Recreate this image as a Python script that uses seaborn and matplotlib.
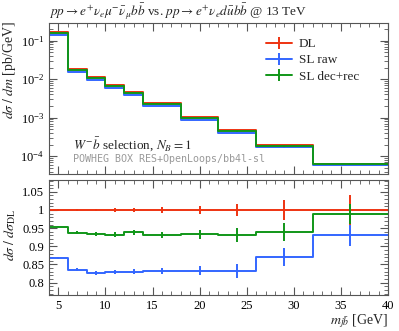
import matplotlib
matplotlib.use("Agg")
import matplotlib.pyplot as plt
from matplotlib.lines import Line2D
from matplotlib.ticker import MultipleLocator, LogLocator, FuncFormatter, NullFormatter
import numpy as np
import seaborn as sns

# bin edges of m_jb [GeV]
edges = [4, 6, 8, 10, 12, 14, 18, 22, 26, 32, 40]
# DL cross section per bin [pb/GeV]
xs_dl = [0.165, 0.0185, 0.0115, 0.0072, 0.0046, 0.0024, 0.00106, 0.00048, 0.000195, 6.4e-5]
# ratios to DL
ratio_sl_raw = [0.868, 0.836, 0.827, 0.830, 0.830, 0.831, 0.833, 0.832, 0.870, 0.930]
ratio_sl_decrec = [0.954, 0.937, 0.934, 0.932, 0.938, 0.931, 0.933, 0.931, 0.940, 0.989]
# relative stat. errors
err_dl = [0.002, 0.003, 0.004, 0.005, 0.006, 0.007, 0.012, 0.016, 0.027, 0.040]
err_sl_raw = [0.002, 0.004, 0.005, 0.006, 0.007, 0.008, 0.012, 0.020, 0.025, 0.028]
err_sl_decrec = [0.002, 0.004, 0.005, 0.006, 0.007, 0.008, 0.012, 0.020, 0.025, 0.028]

labels = ["DL", "SL raw", "SL dec+rec"]
colors = ["#EE3311", "#3366FF", "#109618"]

sns.set_style("ticks")
plt.rcParams["font.family"] = ["Liberation Serif", "DejaVu Serif"]
plt.rcParams["mathtext.fontset"] = "stix"

centers = [(a + b) / 2 for a, b in zip(edges[:-1], edges[1:])]
ratios = [[1.0] * len(xs_dl), ratio_sl_raw, ratio_sl_decrec]
errs = [err_dl, err_sl_raw, err_sl_decrec]

fig = plt.figure(figsize=(3.99, 3.31), dpi=100)
ax1 = fig.add_axes([0.1228, 0.4734, 0.8496, 0.4571])
ax2 = fig.add_axes([0.1228, 0.1088, 0.8496, 0.3474])

lw = 1.4
for rat, err, c in zip(ratios, errs, colors):
    vals = [d * r for d, r in zip(xs_dl, rat)]
    sns.lineplot(x=edges, y=vals + [vals[-1]], drawstyle="steps-post", estimator=None,
                 sort=False, color=c, lw=lw, ax=ax1)
    ax1.errorbar(centers, vals, yerr=[v * e for v, e in zip(vals, err)], fmt="none",
                 ecolor=c, elinewidth=lw, capsize=0)
    sns.lineplot(x=edges, y=list(rat) + [rat[-1]], drawstyle="steps-post", estimator=None,
                 sort=False, color=c, lw=lw, ax=ax2)
    ax2.errorbar(centers, rat, yerr=err, fmt="none", ecolor=c, elinewidth=lw, capsize=0)

ax1.set_yscale("log")
ax1.set_ylim(3.4e-5, 0.286)
ax2.set_ylim(0.766, 1.0825)
for ax in (ax1, ax2):
    ax.set_xlim(4, 40)
    ax.xaxis.set_major_locator(MultipleLocator(5))
    ax.xaxis.set_minor_locator(MultipleLocator(1))
    ax.tick_params(which="both", direction="in", top=True, right=True, colors="#555555",
                   labelcolor="black", labelsize=9)
    ax.tick_params(which="major", length=6, width=0.8)
    ax.tick_params(which="minor", length=3, width=0.6)
    for s in ax.spines.values():
        s.set_color("#555555")
        s.set_linewidth(0.8)

ax1.yaxis.set_major_locator(LogLocator(base=10))
ax1.yaxis.set_minor_locator(LogLocator(base=10, subs=np.arange(2, 10)))
ax1.yaxis.set_minor_formatter(NullFormatter())
ax1.set_xticklabels([])
ax1.set_xlabel("")

ax2.yaxis.set_major_locator(MultipleLocator(0.05))
ax2.yaxis.set_minor_locator(MultipleLocator(0.01))
ax2.yaxis.set_major_formatter(FuncFormatter(lambda v, p: f"{v:g}"))

ax1.set_ylabel(r"$d\sigma\;/\;dm$ [pb/GeV]", fontsize=10)
ax1.yaxis.set_label_coords(-0.09, 0.69)
ax2.set_ylabel(r"$d\sigma\;/\;d\sigma_{\mathrm{DL}}$", fontsize=10)
ax2.yaxis.set_label_coords(-0.09, 0.52)
ax2.set_xlabel(r"$m_{j\bar{b}}$ [GeV]", fontsize=10, ha="right")
ax2.xaxis.set_label_coords(1.0, -0.15)

fig.text(0.122, 0.965, r"$pp \to e^{+}\nu_{e}\mu^{-}\bar{\nu}_{\mu}b\bar{b}$ vs. "
         r"$pp \to e^{+}\nu_{e}d\bar{u}b\bar{b}$ @ 13 TeV", fontsize=9.5, va="center")

ax1.text(0.07, 0.2, r"$W^{-}\bar{b}$ selection, $N_B = 1$", transform=ax1.transAxes,
         fontsize=9.5, va="center")
ax1.text(0.07, 0.1, "POWHEG BOX RES+OpenLoops/bb4l-sl", transform=ax1.transAxes,
         fontsize=7.2, family="DejaVu Sans Mono", color="#999999", va="center")

handles = [Line2D([], [], color=c, lw=lw, marker="|", markersize=8, markeredgewidth=lw)
           for c in colors]
ax1.legend(handles, labels, loc="upper right", bbox_to_anchor=(0.95, 0.98), frameon=False,
           fontsize=9.5, handlelength=2.0, handletextpad=0.5, labelspacing=0.3)

fig.savefig("out.png", dpi=100)
